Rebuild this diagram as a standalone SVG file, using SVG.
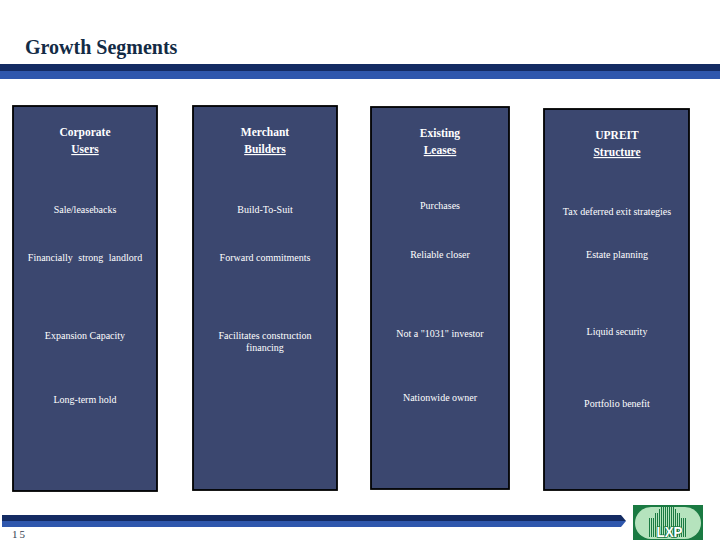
<svg xmlns="http://www.w3.org/2000/svg" width="720" height="540" viewBox="0 0 720 540">
<style>
text{font-family:"Liberation Serif","Times New Roman",serif;fill:#fff;text-anchor:middle;font-size:10px}
.h{font-size:11.5px;font-weight:bold}
.u{text-decoration:underline}
.box{fill:#3b476f;stroke:#000;stroke-width:1.8}
</style>
<rect width="720" height="540" fill="#fff"/>
<text x="25" y="53.5" style="font-size:20px;font-weight:bold;fill:#132b45;text-anchor:start">Growth Segments</text>
<rect x="0" y="64" width="720" height="7" fill="#142b63"/>
<rect x="0" y="71" width="720" height="8" fill="#2f57ad"/>
<g id="node-corporate">
<rect class="box" x="13" y="106" width="144" height="385"/>
<text class="h" x="85" y="136">Corporate</text>
<text class="h u" x="85" y="153">Users</text>
<text x="85" y="213">Sale/leasebacks</text>
<text x="85" y="261" style="word-spacing:3px">Financially strong landlord</text>
<text x="85" y="339">Expansion Capacity</text>
<text x="85" y="403">Long-term hold</text>
</g>
<g id="node-merchant">
<rect class="box" x="193" y="106" width="144" height="384"/>
<text class="h" x="265" y="136">Merchant</text>
<text class="h u" x="265" y="153">Builders</text>
<text x="265" y="213">Build-To-Suit</text>
<text x="265" y="261">Forward commitments</text>
<text x="265" y="339">Facilitates construction</text>
<text x="265" y="351">financing</text>
</g>
<g id="node-existing">
<rect class="box" x="371" y="107" width="138" height="382"/>
<text class="h" x="440" y="137">Existing</text>
<text class="h u" x="440" y="154">Leases</text>
<text x="440" y="209">Purchases</text>
<text x="440" y="258">Reliable closer</text>
<text x="440" y="337">Not a "1031" investor</text>
<text x="440" y="401">Nationwide owner</text>
</g>
<g id="node-upreit">
<rect class="box" x="544" y="109" width="145" height="381"/>
<text class="h" x="617" y="139">UPREIT</text>
<text class="h u" x="617" y="156">Structure</text>
<text x="617" y="215">Tax deferred exit strategies</text>
<text x="617" y="258">Estate planning</text>
<text x="617" y="335">Liquid security</text>
<text x="617" y="407">Portfolio benefit</text>
</g>
<path d="M2 515H621L626 521H2Z" fill="#142b63"/>
<path d="M2 521H626L621 527H2Z" fill="#2f57ad"/>
<text x="12" y="538" style="font-size:11px;fill:#33414f;letter-spacing:2px;text-anchor:start">15</text>
<g id="logo">
<rect x="633" y="505" width="70" height="35" fill="#1a7a42"/>
<rect x="635" y="507" width="66" height="32" rx="16" fill="#b5e3bd"/>
<path d="M649.500 537V518M651.500 537V518M653.500 537V518M655.500 537V513M657.500 537V513M659.500 537V509M661.500 537V507M663.500 537V507M665.500 537V507M667.500 537V507M669.500 537V507M671.500 537V507M673.500 537V507M675.500 537V509M677.500 537V513M679.500 537V513M681.500 537V518M683.500 537V518M685.500 537V518" stroke="#1a7a42" stroke-width="1" fill="none"/>
<text x="669.500" y="537" textLength="26" lengthAdjust="spacingAndGlyphs" style="font-family:'Liberation Sans',sans-serif;font-size:15px;font-weight:bold;stroke:#1a7a42;stroke-width:1.500;paint-order:stroke">LXP</text>
</g>
</svg>
